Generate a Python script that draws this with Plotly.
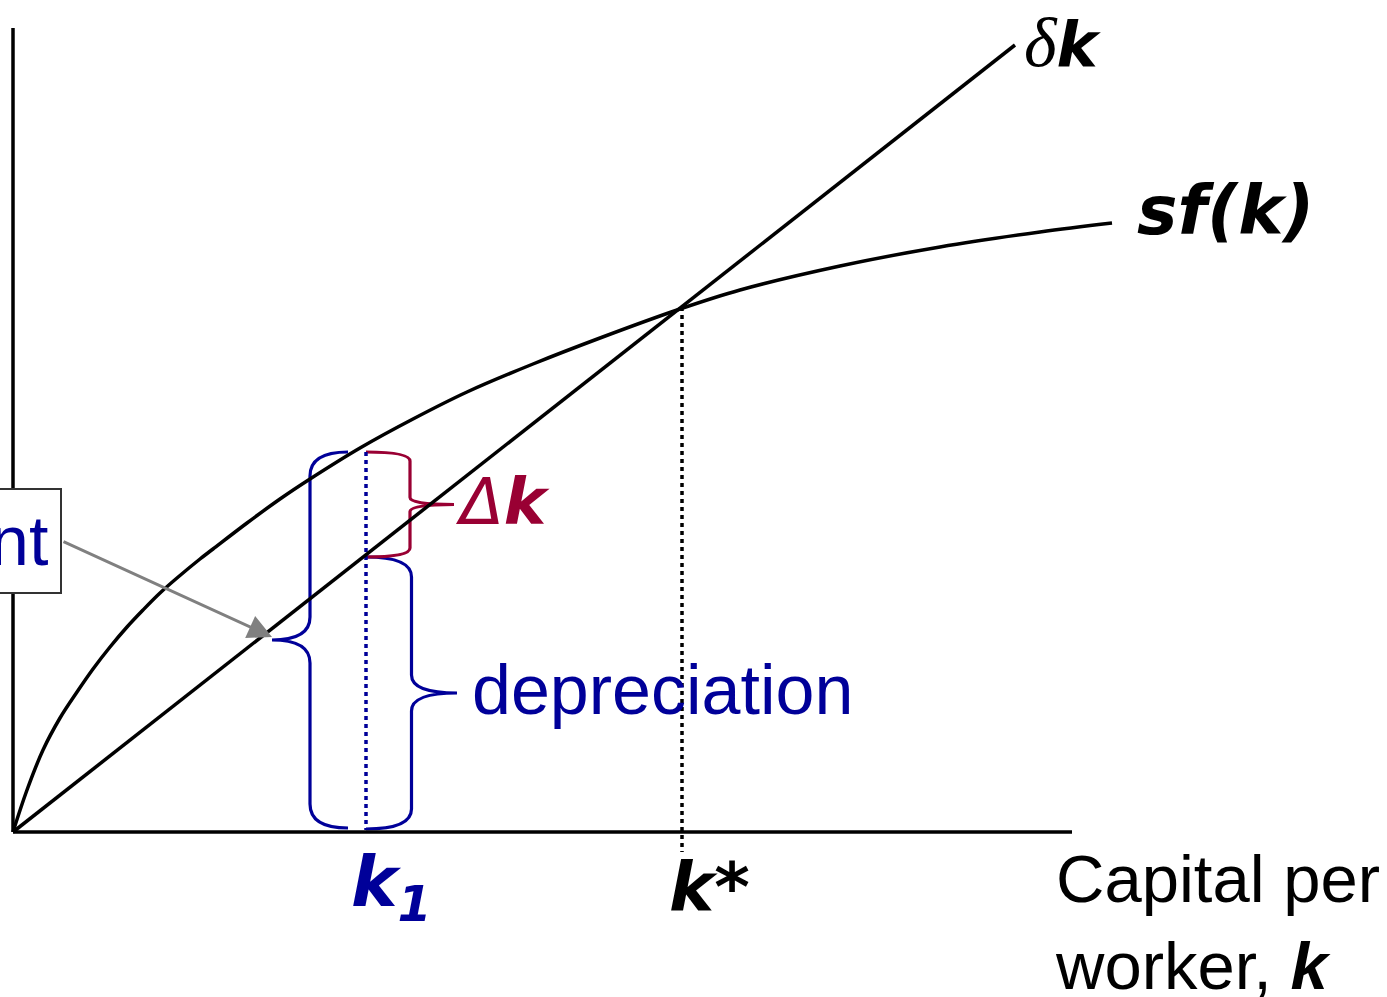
import plotly.graph_objects as go

# sf(k) curve
k_curve = [0, 0.14, 0.30, 0.47, 0.64, 0.80, 0.97, 1.14, 1.30, 1.47, 1.64, 1.87, 2.00, 2.34,
           2.67, 2.97, 3.47, 4.00, 4.54, 5.20, 5.87, 6.67, 7.27, 8.27, 9.27, 10.27, 10.99]
sf_curve = [0, 0.42, 0.82, 1.14, 1.40, 1.63, 1.85, 2.05, 2.22, 2.39, 2.54, 2.73, 2.83, 3.09,
            3.33, 3.53, 3.84, 4.13, 4.40, 4.68, 4.94, 5.23, 5.42, 5.66, 5.85, 6.00, 6.09]

# depreciation line delta*k
k_line = [0, 10.02]
dk_line = [0, 7.87]

# axes extents
k_axis = [0, 10.59]
y_axis = [0, 8.04]

k1 = 3.53
k_star = 6.69
sf_k1 = 3.80   # saving (investment) at k1
dk_k1 = 2.75   # depreciation at k1
y_star = 5.25

BLUE = "#000099"
RED = "#990033"
GREY = "#808080"


def brace(x0, y_lo, y_hi, w, r, r_tip):
    # curly brace opening from x0 toward x0 + w
    xv = x0 + w / 2
    xt = x0 + w
    ym = (y_lo + y_hi) / 2
    return (f"M {x0},{y_hi} Q {xv},{y_hi} {xv},{y_hi - r} "
            f"L {xv},{ym + r_tip} Q {xv},{ym} {xt},{ym} "
            f"Q {xv},{ym} {xv},{ym - r_tip} "
            f"L {xv},{y_lo + r} Q {xv},{y_lo} {x0},{y_lo}")


fig = go.Figure()

line_k = dict(color="black", width=3.5)
fig.add_trace(go.Scatter(x=[0, 0], y=y_axis, mode="lines", line=line_k))
fig.add_trace(go.Scatter(x=k_axis, y=[0, 0], mode="lines", line=line_k))

fig.add_trace(go.Scatter(x=[k_star, k_star], y=[y_star, -0.2], mode="lines",
                         line=dict(color="black", width=3.5, dash="4px,4px")))
fig.add_trace(go.Scatter(x=[k1, k1], y=[sf_k1, 0.02], mode="lines",
                         line=dict(color=BLUE, width=3.5, dash="4px,4px")))

fig.add_trace(go.Scatter(x=k_line, y=dk_line, mode="lines", line=line_k))
fig.add_trace(go.Scatter(x=k_curve, y=sf_curve, mode="lines",
                         line=dict(color="black", width=3.5, shape="spline")))

# braces
fig.add_shape(type="path", path=brace(k1 - 0.18, 0.04, sf_k1, -0.76, 0.24, 0.23),
              line=dict(color=BLUE, width=3.2), layer="below")
fig.add_shape(type="path", path=brace(k1, 0.03, dk_k1, 0.91, 0.2, 0.18),
              line=dict(color=BLUE, width=3.2), layer="below")
fig.add_shape(type="path", path=brace(k1, dk_k1, sf_k1, 0.88, 0.09, 0.07),
              line=dict(color=RED, width=3.2), layer="below")

VERD = "DejaVu Sans"
ARIAL = "Liberation Sans, Arial"

ann = [
    dict(x=10.09, y=7.90,
         text="<span style='font-family:Liberation Serif;font-size:70px'><i>δ</i></span>"
              "<b><i>k</i></b>",
         xanchor="left", font=dict(family=VERD, size=62, color="black")),
    dict(x=11.22, y=6.22, text="<b><i>sf(k)</i></b>", xanchor="left",
         font=dict(family=VERD, size=68, color="black")),
    dict(x=4.40, y=3.30, text="<i>Δ</i><b><i>k</i></b>", xanchor="left",
         font=dict(family=VERD, size=64, color=RED)),
    dict(x=4.57, y=1.42, text="depreciation", xanchor="left",
         font=dict(family=ARIAL, size=70, color=BLUE)),
    dict(x=3.36, y=-0.55, text="<b><i>k<sub>1</sub></i></b>", xanchor="left",
         font=dict(family=VERD, size=70, color=BLUE)),
    dict(x=6.54, y=-0.55, text="<b><i>k*</i></b>", xanchor="left",
         font=dict(family=VERD, size=68, color="black")),
    dict(x=10.40, y=-0.90, text="Capital per<br>worker, <b><i>k</i></b>",
         xanchor="left", align="left",
         font=dict(family=ARIAL, size=67, color="black")),
]
for a in ann:
    fig.add_annotation(showarrow=False, yanchor="middle", **a)

# arrow from the investment box to the brace tip
fig.add_annotation(x=2.59, y=1.95, ax=0.49, ay=2.91, axref="x", ayref="y",
                   text="", showarrow=True, arrowhead=2, arrowsize=1.6,
                   arrowwidth=3, arrowcolor=GREY, standoff=0)
fig.add_annotation(x=0.49, y=2.91, text="investment", showarrow=False,
                   xanchor="right", yanchor="middle",
                   font=dict(family=ARIAL, size=70, color=BLUE),
                   bgcolor="white", bordercolor="#333333", borderwidth=2,
                   borderpad=12)

fig.update_layout(
    width=1387, height=997,
    margin=dict(l=0, r=0, t=0, b=0),
    paper_bgcolor="white", plot_bgcolor="white",
    showlegend=False,
    xaxis=dict(range=[-0.13, 13.74], visible=False, fixedrange=True),
    yaxis=dict(range=[-1.65, 8.32], visible=False, fixedrange=True),
)

fig.write_html("out.html", config={"displayModeBar": False},
               post_script="document.body.style.margin='0';")
